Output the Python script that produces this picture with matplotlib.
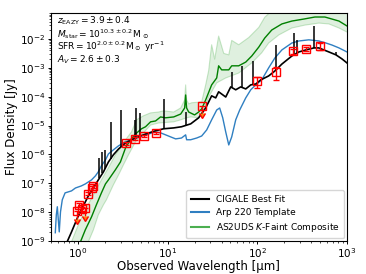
import matplotlib

matplotlib.use("Agg")

import matplotlib.pyplot as plt
import numpy as np


# CIGALE best fit continuum (wavelength um, log10 flux Jy)
cigale_wl = [0.76, 0.85, 0.99, 1.15, 1.31, 1.49, 1.69, 1.93, 2.19, 2.49, 2.84, 3.40, 3.96, 4.74,
             5.68, 7.34, 9.02, 11.7, 14.3, 18.1, 22.2, 26.6, 31.0, 34.4, 37.1, 44.5, 50.6, 57.5,
             65.4, 74.4, 84.6, 96.2, 109, 134, 157, 188, 243, 291, 348, 428, 486, 629, 753, 879, 1000]
cigale_logf = [-9.02, -8.68, -8.19, -7.78, -7.43, -7.16, -6.88, -6.60, -6.26, -6.01, -5.81, -5.60,
               -5.49, -5.39, -5.29, -5.18, -5.11, -5.08, -5.04, -4.94, -4.73, -4.39, -3.97, -4.04,
               -3.83, -4.01, -3.66, -3.76, -3.66, -3.73, -3.59, -3.56, -3.42, -3.28, -3.11, -2.87,
               -2.59, -2.45, -2.38, -2.31, -2.31, -2.45, -2.55, -2.69, -2.83]

# CIGALE emission lines
line_wl = [1.74, 1.88, 2.03, 2.37, 3.06, 4.28, 4.50, 4.99, 9.02, 15.9, 51.9, 67.1, 89.1, 161,
           256, 276, 428, 753]
line_base = [-6.80, -6.65, -6.50, -6.15, -5.75, -5.45, -5.43, -5.35, -5.11, -4.98, -3.68, -3.65,
             -3.58, -3.09, -2.54, -2.48, -2.31, -2.55]
line_top = [-6.12, -5.91, -5.84, -4.87, -4.46, -4.80, -4.39, -4.56, -4.08, -4.53, -3.14, -2.93,
            -2.76, -2.21, -1.79, -2.03, -1.55, -2.45]

# Arp 220 template
arp_wl = [0.56, 0.575, 0.59, 0.605, 0.62, 0.64, 0.67, 0.72, 0.85, 0.94, 1.09, 1.21, 1.42, 1.57,
          1.69, 1.83, 2.03, 2.19, 2.49, 2.84, 3.40, 3.96, 5.12, 6.13, 7.34, 8.35, 9.50, 10.8,
          12.3, 14.3, 15.9, 16.3, 18.1, 21.1, 24.0, 27.3, 31.0, 35.3, 38.1, 41.2, 44.5, 48.1,
          51.9, 57.5, 63.7, 74.4, 84.6, 96.2, 112, 134, 157, 188, 243, 291, 376, 486, 582, 680,
          814, 1000]
arp_logf = [-8.71, -8.09, -7.81, -8.26, -8.68, -7.99, -7.57, -7.33, -7.26, -7.16, -7.09, -7.02,
            -6.88, -6.74, -6.60, -6.39, -6.19, -5.98, -5.84, -5.70, -5.56, -5.49, -5.36, -5.29,
            -5.22, -5.25, -5.32, -5.39, -5.46, -5.43, -5.32, -5.49, -5.49, -5.43, -5.36, -5.15,
            -4.80, -4.46, -4.39, -4.73, -5.22, -5.67, -5.39, -4.80, -4.46, -4.04, -3.76, -3.59,
            -3.42, -3.00, -2.66, -2.38, -2.14, -2.07, -2.03, -2.07, -2.14, -2.21, -2.31, -2.45]

# AS2UDS K-faint composite
comp_wl = [1.07, 1.21, 1.42, 1.61, 1.83, 2.03, 2.19, 2.62, 2.98, 3.40, 3.86, 4.39, 5.12, 5.68,
           6.46, 7.34, 8.35, 9.50, 11.7, 14.0, 15.5, 15.9, 16.3, 17.2, 20.0, 22.2, 24.0, 26.6,
           31.0, 35.3, 37.1, 40.1, 48.1, 51.9, 62.1, 74.4, 86.8, 104, 121, 145, 188, 243, 331,
           439, 567, 680, 814, 1000]
comp_logf = [-9.02, -8.61, -8.16, -7.74, -7.33, -7.02, -6.88, -6.53, -6.26, -5.77, -5.49, -5.29,
             -5.11, -5.04, -4.87, -4.84, -4.70, -4.73, -4.70, -4.60, -4.39, -3.94, -4.39, -4.53,
             -4.63, -4.53, -4.42, -4.11, -3.59, -3.35, -2.93, -3.07, -3.07, -2.93, -2.93, -2.80,
             -2.59, -2.28, -1.97, -1.69, -1.48, -1.38, -1.31, -1.24, -1.24, -1.31, -1.38, -1.55]

comp_hi_wl = [0.85, 1.01, 1.24, 1.49, 1.83, 2.19, 2.62, 2.98, 3.40, 3.96, 4.50, 5.39, 6.46, 7.93,
              9.02, 11.7, 14.0, 15.5, 15.9, 16.3, 17.2, 18.5, 24.0, 26.6, 28.7, 31.0, 33.5, 37.1,
              42.3, 48.1, 51.9, 62.1, 80.4, 104, 121, 142, 300, 1000]
comp_hi_logf = [-9.02, -8.44, -7.85, -7.40, -6.88, -6.46, -6.01, -5.77, -5.49, -5.22, -4.80, -4.66,
                -4.56, -4.53, -4.49, -4.53, -4.39, -4.11, -3.59, -4.11, -4.25, -4.21, -4.18, -3.59,
                -3.10, -2.20, -2.70, -1.90, -2.50, -2.55, -2.05, -2.20, -1.95, -1.60, -1.25, -1.05,
                -0.80, -0.80]

comp_lo_wl = [1.24, 1.31, 1.49, 1.69, 1.93, 2.08, 2.49, 2.84, 3.22, 3.67, 4.39, 5.39, 6.46, 7.93,
              11.7, 14.0, 16.3, 18.1, 22.2, 25.2, 28.7, 35.3, 44.5, 62.1, 86.8, 112, 134, 174,
              243, 340, 486, 629, 814, 1000]
comp_lo_logf = [-9.30, -9.02, -8.61, -8.09, -7.74, -7.57, -7.05, -6.71, -6.36, -6.01, -5.56, -5.25,
                -4.98, -4.91, -4.87, -4.80, -4.73, -4.70, -4.73, -4.53, -4.01, -3.52, -3.35, -3.18,
                -2.83, -2.48, -2.14, -1.86, -1.62, -1.52, -1.45, -1.48, -1.62, -1.76]

# photometry: detections and upper limits (Jy)
det_wl = [1.04, 1.12, 1.31, 1.42, 1.49, 3.40, 4.28, 5.53, 7.34, 100, 160, 250, 350, 500]
det_flux = [1.8e-8, 1.3e-8, 4.4e-8, 6.9e-8, 8.1e-8, 2.5e-6, 3.5e-6, 4.4e-6, 5.6e-6,
            3.5e-4, 7.2e-4, 3.8e-3, 4.5e-3, 5.7e-3]
det_err = [2.5e-9, 2.0e-9, 6e-9, 9e-9, 1.1e-8, 3e-7, 4e-7, 5e-7, 6e-7,
           1.5e-4, 3.3e-4, 0.7e-3, 0.7e-3, 1.5e-3]
lim_wl = [0.99, 1.21, 24.0]
lim_flux = [1.1e-8, 1.4e-8, 4.8e-5]

x_ticks = [1, 10, 100, 1000]

fit_text = [
    r"$z_{\rm EAZY} = 3.9 \pm 0.4$",
    r"$M_{\rm star} = 10^{10.3 \pm 0.2}\,{\rm M}_\odot$",
    r"${\rm SFR} = 10^{2.0 \pm 0.2}\,{\rm M}_\odot\ {\rm yr}^{-1}$",
    r"$A_V = 2.6 \pm 0.3$",
]


def main():
    fig = plt.figure(figsize=(3.66, 2.74), dpi=100)
    ax = fig.add_axes([0.139, 0.12, 0.809, 0.833])

    band_x = np.r_[comp_hi_wl, comp_lo_wl[::-1]]
    band_y = 10 ** np.r_[comp_hi_logf, comp_lo_logf[::-1]]
    ax.fill(band_x, band_y, color="#2ca02c", alpha=0.15, lw=0)
    ax.plot(comp_hi_wl, 10 ** np.array(comp_hi_logf), color="#2ca02c", alpha=0.25, lw=0.8)
    ax.plot(comp_lo_wl, 10 ** np.array(comp_lo_logf), color="#2ca02c", alpha=0.25, lw=0.8)
    ax.plot(comp_wl, 10 ** np.array(comp_logf), color="green", lw=1.0)

    ax.plot(arp_wl, 10 ** np.array(arp_logf), color="#2f7fc1", lw=1.0)

    ax.plot(cigale_wl, 10 ** np.array(cigale_logf), color="black", lw=1.2)
    ax.vlines(line_wl, 10 ** np.array(line_base), 10 ** np.array(line_top), color="black", lw=1.1)

    det_f = np.array(det_flux)
    ax.errorbar(det_wl, det_f, yerr=det_err, fmt="s", ms=5.5, mfc="none", mec="red", mew=1.0,
                ecolor="red", elinewidth=1.0, capsize=2.5, zorder=5)
    lim_f = np.array(lim_flux)
    ax.errorbar(lim_wl, lim_f, yerr=0.45 * lim_f, uplims=True, fmt="s", ms=5.5, mfc="none",
                mec="red", mew=1.0, ecolor="red", elinewidth=1.0, capsize=2.5, zorder=5)

    ax.plot([], [], color="black", label="CIGALE Best Fit")
    ax.plot([], [], color="#2f7fc1", label="Arp 220 Template")
    ax.plot([], [], color="#4caf50", label="AS2UDS $K$-Faint Composite")
    ax.legend(loc="lower right", fontsize=6.5, handlelength=2.0, borderpad=0.5, labelspacing=0.45,
              borderaxespad=0.3)

    text_y = [0.952, 0.894, 0.838, 0.784]
    for txt, y in zip(fit_text, text_y):
        ax.text(0.022, y, txt, transform=ax.transAxes, fontsize=6.5, va="baseline")

    ax.set_xscale("log")
    ax.set_yscale("log")
    ax.set_xlim(0.5, 1000)
    ax.set_ylim(1e-9, 8e-2)
    ax.set_xticks(x_ticks)
    ax.set_xlabel("Observed Wavelength [μm]", fontsize=8.5, labelpad=0)
    ax.set_ylabel("Flux Density [Jy]", fontsize=8.5, labelpad=1)
    ax.tick_params(which="major", labelsize=7.5, length=2.5, width=0.7, pad=1.5)
    ax.tick_params(which="minor", length=1.5, width=0.5)

    fig.savefig("out.png", dpi=100)
    plt.close(fig)


if __name__ == "__main__":
    main()
